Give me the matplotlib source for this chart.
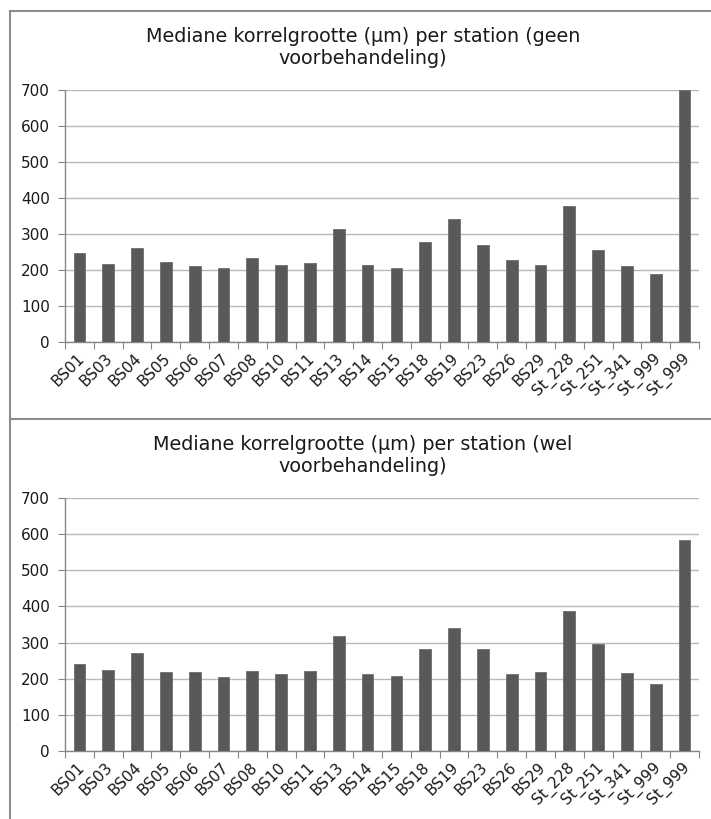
import matplotlib
matplotlib.use('Agg')
import matplotlib.pyplot as plt
from matplotlib.lines import Line2D
import matplotlib.transforms as mtrans
import numpy as np

# Stations (same for both charts)
stations = ['BS01', 'BS03', 'BS04', 'BS05', 'BS06', 'BS07', 'BS08', 'BS10',
            'BS11', 'BS13', 'BS14', 'BS15', 'BS18', 'BS19', 'BS23', 'BS26',
            'BS29', 'St_228', 'St_251', 'St_341', 'St_999', 'St_999']

# Mediane korrelgrootte zonder voorbehandeling
geen_voorbeh = [247, 217, 261, 222, 211, 205, 233, 214, 219, 313, 215,
                205, 277, 341, 269, 227, 214, 379, 256, 211, 190, 700]

# Mediane korrelgrootte met voorbehandeling
wel_voorbeh = [242, 223, 270, 218, 218, 204, 220, 212, 220, 318, 212,
               207, 281, 339, 281, 214, 218, 387, 295, 216, 186, 583]

yticks = [0, 100, 200, 300, 400, 500, 600, 700]

W, H = 711, 819
fig = plt.figure(figsize=(W / 100, H / 100), dpi=100)
fig.patch.set_facecolor('white')

BAR = '#595959'
GRID = '#b8b8b8'
AXIS = '#868686'
TXT = '#1a1a1a'

# Kaders rond de grafieken
for seg in [((10, 711), (11, 11)), ((10, 10), (11, 819)), ((10, 711), (419, 419))]:
    fig.add_artist(Line2D([seg[0][0] / W, seg[0][1] / W],
                          [1 - seg[1][0] / H, 1 - seg[1][1] / H],
                          color='#8c8c8c', linewidth=1.5))


def draw_chart(rect, values, title, title_y):
    ax = fig.add_axes(rect)
    x = np.arange(len(stations))
    ax.bar(x, values, width=0.41, color=BAR, edgecolor='#6e6e6e',
           linewidth=0.6, zorder=3)
    ax.set_xlim(-0.5, len(stations) - 0.5)
    ax.set_ylim(0, 700)
    ax.set_yticks(yticks)
    ax.set_yticklabels([str(v) for v in yticks], fontsize=11, color=TXT)
    ax.yaxis.grid(True, color=GRID, linewidth=1.0, zorder=0)
    ax.set_axisbelow(True)
    for s in ['top', 'right']:
        ax.spines[s].set_visible(False)
    for s in ['left', 'bottom']:
        ax.spines[s].set_color(AXIS)
        ax.spines[s].set_linewidth(1.0)
    ax.tick_params(axis='y', length=5, color=AXIS, pad=6)
    # categorie-ticks tussen de staven
    ax.set_xticks(np.arange(len(stations) + 1) - 0.5)
    ax.set_xticklabels([])
    ax.tick_params(axis='x', length=5, color=AXIS)
    ax.set_xticks(x, minor=True)
    ax.set_xticklabels(stations, minor=True, rotation=45, ha='right',
                       rotation_mode='anchor', fontsize=11, color=TXT)
    ax.tick_params(axis='x', which='minor', length=0, pad=6)
    shift = mtrans.ScaledTranslation(-3 / 100, 0, fig.dpi_scale_trans)
    for lbl in ax.get_xticklabels(minor=True):
        lbl.set_transform(lbl.get_transform() + shift)
    fig.text(363 / W, 1 - title_y / H, title, ha='center', va='center',
             fontsize=13.8, color=TXT, linespacing=1.2)
    return ax


draw_chart([65 / W, 477 / H, 634 / W, 252 / H], geen_voorbeh,
           'Mediane korrelgrootte (µm) per station (geen\nvoorbehandeling)', 48)
draw_chart([65 / W, 68 / H, 634 / W, 253 / H], wel_voorbeh,
           'Mediane korrelgrootte (µm) per station (wel\nvoorbehandeling)', 456)

plt.savefig('out.png', dpi=100)
